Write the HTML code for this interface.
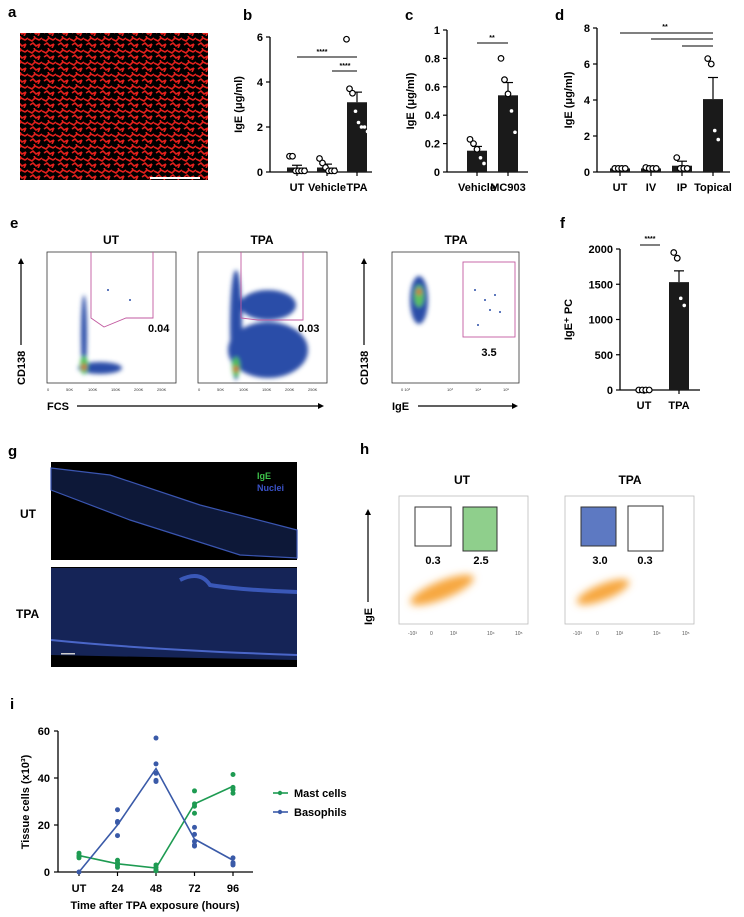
<!DOCTYPE html>
<html><head><meta charset="utf-8">
<style>
html,body{margin:0;padding:0;background:#fff;}
svg{display:block;font-family:"Liberation Sans",Arial,sans-serif;font-weight:bold;}
</style></head>
<body>
<svg id="fig" width="744" height="917" viewBox="0 0 744 917" xmlns="http://www.w3.org/2000/svg">
<defs>
<pattern id="mesh" width="14" height="12" patternUnits="userSpaceOnUse">
<rect width="14" height="12" fill="#000"/>
<path d="M0 3 L4 5 L7 2 L11 4 L14 2 M2 9 L5 7 L8 10 L12 8 M6 0 L7 2 M10 12 L12 8" stroke="#e3201c" stroke-width="1.6" fill="none"/>
</pattern>
<filter id="blur2"><feGaussianBlur stdDeviation="2"/></filter>
<filter id="blur4"><feGaussianBlur stdDeviation="4"/></filter>
</defs>

<g font-size="15">
<text x="8" y="17">a</text><text x="243" y="20">b</text><text x="405" y="20">c</text><text x="555" y="20">d</text>
<text x="10" y="228">e</text><text x="560" y="228">f</text><text x="8" y="456">g</text><text x="360" y="454">h</text><text x="10" y="709">i</text>
</g>

<g>
<rect x="20" y="33" width="188" height="147" fill="url(#mesh)"/>
<rect x="150" y="177" width="50" height="2" fill="#fff"/>
</g>

<g id="charts"></g>

<g font-size="12">
<text x="111" y="244" text-anchor="middle">UT</text>
<text x="262" y="244" text-anchor="middle">TPA</text>
<text x="456" y="244" text-anchor="middle">TPA</text>
<rect x="47" y="252" width="129" height="131" fill="#fff" stroke="#333" stroke-width="0.8"/>
<rect x="198" y="252" width="129" height="131" fill="#fff" stroke="#333" stroke-width="0.8"/>
<rect x="392" y="252" width="127" height="131" fill="#fff" stroke="#333" stroke-width="0.8"/>
<g filter="url(#blur2)">
<ellipse cx="84" cy="335" rx="3" ry="40" fill="#2c4ea8"/>
<ellipse cx="100" cy="368" rx="22" ry="6" fill="#2c4ea8"/>
<ellipse cx="84" cy="365" rx="4" ry="9" fill="#4fbf5a"/>
<ellipse cx="84" cy="367" rx="2" ry="3" fill="#e33"/>
<ellipse cx="236" cy="325" rx="6" ry="55" fill="#2c4ea8"/>
<ellipse cx="268" cy="350" rx="40" ry="28" fill="#2c4ea8"/>
<ellipse cx="268" cy="305" rx="28" ry="15" fill="#2c4ea8"/>
<ellipse cx="236" cy="367" rx="4" ry="10" fill="#4fbf5a"/>
<ellipse cx="236" cy="369" rx="2" ry="3" fill="#e33"/>
<ellipse cx="419" cy="300" rx="9" ry="24" fill="#2c4ea8"/>
<ellipse cx="419" cy="296" rx="5" ry="11" fill="#5cc060"/>
<ellipse cx="419" cy="292" rx="2" ry="3" fill="#e33"/>
</g>
<g fill="#2c4ea8"><circle cx="475" cy="290" r="1"/><circle cx="485" cy="300" r="1"/><circle cx="490" cy="310" r="1"/><circle cx="478" cy="325" r="1"/><circle cx="495" cy="295" r="1"/><circle cx="500" cy="312" r="1"/><circle cx="108" cy="290" r="1"/><circle cx="130" cy="300" r="1"/></g>
<path d="M91 252 V318 L104 327 L126 318 H153 V252" fill="none" stroke="#c25aa0" stroke-width="0.9"/>
<path d="M241 252 V318 L258 320 H303 V252" fill="none" stroke="#c25aa0" stroke-width="0.9"/>
<rect x="463" y="262" width="52" height="75" fill="none" stroke="#c25aa0" stroke-width="0.9"/>
<text x="148" y="332" font-size="11">0.04</text>
<text x="298" y="332" font-size="11">0.03</text>
<text x="489" y="356" font-size="11" text-anchor="middle">3.5</text>
<g font-size="4" font-weight="normal" fill="#333">
<text x="47" y="391">0</text><text x="66" y="391">50K</text><text x="88" y="391">100K</text><text x="111" y="391">150K</text><text x="134" y="391">200K</text><text x="157" y="391">250K</text>
<text x="198" y="391">0</text><text x="217" y="391">50K</text><text x="239" y="391">100K</text><text x="262" y="391">150K</text><text x="285" y="391">200K</text><text x="308" y="391">250K</text>
<text x="401" y="391">0 10²</text><text x="447" y="391">10³</text><text x="475" y="391">10⁴</text><text x="503" y="391">10⁵</text>
</g>
<text x="47" y="410" font-size="11">FCS</text>
<line x1="77" y1="406" x2="322" y2="406" stroke="#000" stroke-width="1.2"/><path d="M324 406 l-6 -3 v6z"/>
<text x="392" y="410" font-size="11">IgE</text>
<line x1="418" y1="406" x2="515" y2="406" stroke="#000" stroke-width="1.2"/><path d="M518 406 l-6 -3 v6z"/>
<text transform="translate(25,385) rotate(-90)" font-size="11">CD138</text>
<line x1="21" y1="345" x2="21" y2="262" stroke="#000" stroke-width="1.2"/><path d="M21 258 l-3 6 h6z"/>
<text transform="translate(368,385) rotate(-90)" font-size="11">CD138</text>
<line x1="364" y1="345" x2="364" y2="262" stroke="#000" stroke-width="1.2"/><path d="M364 258 l-3 6 h6z"/>
</g>

<g>
<rect x="51" y="462" width="246" height="98" fill="#000"/>
<polygon points="51,468 110,475 200,505 297,530 297,558 240,555 130,520 51,490" fill="#0d1838" stroke="#3a55b0" stroke-width="1.2"/>
<rect x="51" y="567" width="246" height="100" fill="#000"/>
<polygon points="51,568 297,568 297,660 51,655" fill="#152457"/>
<path d="M51 640 Q150 650 297 655" stroke="#4a66c8" stroke-width="2" fill="none"/>
<path d="M180 580 Q200 570 210 585 Q240 590 297 592" stroke="#3a58b8" stroke-width="4" fill="none"/>
<rect x="61" y="653" width="14" height="1.5" fill="#ccc"/>
<text x="257" y="479" font-size="9" fill="#3ec24a">IgE</text>
<text x="257" y="491" font-size="9" fill="#3a52c8">Nuclei</text>
<text x="20" y="518" font-size="12">UT</text>
<text x="16" y="618" font-size="12">TPA</text>
</g>

<g>
<text x="462" y="484" font-size="12" text-anchor="middle">UT</text>
<text x="630" y="484" font-size="12" text-anchor="middle">TPA</text>
<rect x="399" y="496" width="129" height="128" fill="#fff" stroke="#bbb" stroke-width="0.8"/>
<rect x="565" y="496" width="129" height="128" fill="#fff" stroke="#bbb" stroke-width="0.8"/>
<g filter="url(#blur4)" fill="#f7a740">
<ellipse cx="442" cy="590" rx="34" ry="9" transform="rotate(-22 442 590)"/>
<ellipse cx="603" cy="592" rx="28" ry="8" transform="rotate(-22 603 592)"/>
</g>
<rect x="415" y="507" width="36" height="39" fill="none" stroke="#333"/>
<rect x="463" y="507" width="34" height="44" fill="#8fcf8c" stroke="#333"/>
<rect x="581" y="507" width="35" height="39" fill="#5d79c2" stroke="#333"/>
<rect x="628" y="506" width="35" height="45" fill="none" stroke="#333"/>
<g font-size="5" font-weight="normal" fill="#555"><text x="408" y="635">-10³</text><text x="430" y="635">0</text><text x="450" y="635">10³</text><text x="487" y="635">10⁴</text><text x="515" y="635">10⁵</text><text x="573" y="635">-10³</text><text x="596" y="635">0</text><text x="616" y="635">10³</text><text x="653" y="635">10⁴</text><text x="682" y="635">10⁵</text></g>
<g font-size="11"><text x="433" y="564" text-anchor="middle">0.3</text><text x="481" y="564" text-anchor="middle">2.5</text><text x="600" y="564" text-anchor="middle">3.0</text><text x="645" y="564" text-anchor="middle">0.3</text></g>
<text transform="translate(372,625) rotate(-90)" font-size="11">IgE</text>
<line x1="368" y1="602" x2="368" y2="513" stroke="#000" stroke-width="1.2"/><path d="M368 509 l-3 6 h6z"/>
</g>

<g id="pi"></g>
</svg>
<script>
const bCats = ["UT","Vehicle","TPA"];
const bMeans = [0.2, 0.2, 3.1];
const bErrs = [0.3, 0.35, 3.55];
const bPoints = [[0.7,0.7,0.05,0.05,0.05,0.05],[0.6,0.4,0.2,0.05,0.05,0.05],[5.9,3.7,3.5,2.7,2.2,2.0,2.0,1.8]];
const bTicks = [0,2,4,6];
const cCats = ["Vehicle","MC903"];
const cMeans = [0.15, 0.54];
const cErrs = [0.18, 0.63];
const cPoints = [[0.23,0.2,0.16,0.1,0.06],[0.8,0.65,0.55,0.43,0.28]];
const cTicks = [0,0.2,0.4,0.6,0.8,1];
const dCats = ["UT","IV","IP","Topical"];
const dMeans = [0.2, 0.2, 0.35, 4.05];
const dErrs = [0.25, 0.25, 0.6, 5.25];
const dPoints = [[0.2,0.2,0.2,0.2],[0.25,0.2,0.2,0.2],[0.8,0.2,0.2,0.2],[6.3,6.0,2.3,1.8]];
const dTicks = [0,2,4,6,8];
const fCats = ["UT","TPA"];
const fMeans = [0, 1530];
const fErrs = [0, 1690];
const fPoints = [[0,0,0,0],[1950,1870,1300,1200]];
const fTicks = [0,500,1000,1500,2000];
const iCats = ["UT","24","48","72","96"];
const iMastMean = [7, 3.5, 1.7, 29, 36.5];
const iBasoMean = [0, 20, 44, 14, 5];
const iMastPts = [[8,7,6.5,6],[5,4,3,2],[3,2,1,0.5],[34.5,29,28,25],[41.5,36,35,33.5]];
const iBasoPts = [[0],[26.5,21.5,21,15.5],[57,46,42,39,38.5],[19,16,13,11.5,11],[6,4,3.5,3]];
const iTicks = [0,20,40,60];

const NS="http://www.w3.org/2000/svg";
function mk(parent,tag,attrs,txt){const e=document.createElementNS(NS,tag);for(const k in attrs)e.setAttribute(k,attrs[k]);if(txt!==undefined)e.textContent=txt;parent.appendChild(e);return e;}
const root=document.getElementById('charts');

function barPanel(name,cfg,cats,means,errs,pts,ticks){
  const g=mk(root,'g',{});
  
  
  const y=v=>cfg.y0-(v/cfg.max)*(cfg.y0-cfg.y1);
  const x=i=>cfg.ax+cfg.start+i*cfg.step;
  mk(g,'line',{x1:cfg.ax,y1:y(ticks[ticks.length-1]),x2:cfg.ax,y2:cfg.y0,stroke:'#000','stroke-width':1.3});
  mk(g,'line',{x1:cfg.ax,y1:cfg.y0,x2:cfg.xend,y2:cfg.y0,stroke:'#000','stroke-width':1.3});
  ticks.forEach(t=>{
    mk(g,'line',{x1:cfg.ax-4,y1:y(t),x2:cfg.ax,y2:y(t),stroke:'#000','stroke-width':1.2});
    const tl=mk(g,'text',{x:cfg.ax-7,y:y(t)+4,'font-size':11,'text-anchor':'end'},String(t));
    
    
  });
  cats.forEach((c,i)=>{
    const cx=x(i);
    mk(g,'line',{x1:cx,y1:cfg.y0,x2:cx,y2:cfg.y0+4,stroke:'#000','stroke-width':1.2});
    const lab=mk(g,'text',{x:cx,y:cfg.y0+19,'font-size':11,'text-anchor':'middle'},c);
    
    
    if(errs[i]>means[i]){
      mk(g,'line',{x1:cx,y1:y(means[i]),x2:cx,y2:y(errs[i]),stroke:'#000','stroke-width':1.2});
      mk(g,'line',{x1:cx-5,y1:y(errs[i]),x2:cx+5,y2:y(errs[i]),stroke:'#000','stroke-width':1.2});
    }
    const bar=mk(g,'rect',{x:cx-cfg.bw/2,y:y(means[i]),width:cfg.bw,height:cfg.y0-y(means[i]),fill:'#1a1a1a'});
    
    
    const p=pts[i];
    p.forEach((v,j)=>{
      const off=(j-(p.length-1)/2)*(cfg.jit);
      const inside=v<means[i]&&means[i]>cfg.max*0.1;
      const pt=mk(g,'circle',{cx:cx+off,cy:y(v),r:inside?1.8:2.8,fill:'#fff',stroke:inside?'none':'#000','stroke-width':1.2});
      
      
    });
  });
  const yl=mk(g,'text',{transform:`translate(${cfg.ax-cfg.ylOff},${(cfg.y0+cfg.y1)/2}) rotate(-90)`,'font-size':11,'text-anchor':'middle'},cfg.ylabel);
  
  
  return {g,x,y};
}

const b=barPanel('panel-b-chart',{ax:270,y0:172,y1:37,max:6,start:27,step:30,bw:20,xend:372,jit:3,ylOff:28,ylabel:'IgE (μg/ml)'},bCats,bMeans,bErrs,bPoints,bTicks);
mk(b.g,'line',{x1:b.x(0),y1:57,x2:b.x(2),y2:57,stroke:'#000'});mk(b.g,'text',{x:322,y:54,'font-size':7,'text-anchor':'middle'},'****');
mk(b.g,'line',{x1:332,y1:71,x2:b.x(2),y2:71,stroke:'#000'});mk(b.g,'text',{x:345,y:68,'font-size':7,'text-anchor':'middle'},'****');
const c=barPanel('panel-c-chart',{ax:447,y0:172,y1:30,max:1,start:30,step:31,bw:20,xend:528,jit:3.5,ylOff:33,ylabel:'IgE (μg/ml)'},cCats,cMeans,cErrs,cPoints,cTicks);
mk(c.g,'line',{x1:c.x(0),y1:43,x2:c.x(1),y2:43,stroke:'#000'});mk(c.g,'text',{x:492,y:40,'font-size':7,'text-anchor':'middle'},'**');
const d=barPanel('panel-d-chart',{ax:597,y0:172,y1:28,max:8,start:23,step:31,bw:20,xend:730,jit:3.5,ylOff:25,ylabel:'IgE (μg/ml)'},dCats,dMeans,dErrs,dPoints,dTicks);
[[0,33],[1,39],[2,46]].forEach(([i,yy])=>mk(d.g,'line',{x1:d.x(i),y1:yy,x2:d.x(3),y2:yy,stroke:'#000'}));
mk(d.g,'text',{x:665,y:29,'font-size':7,'text-anchor':'middle'},'**');
const f=barPanel('panel-f-chart',{ax:620,y0:390,y1:249,max:2000,start:24,step:35,bw:20,xend:700,jit:3.5,ylOff:48,ylabel:'IgE⁺ PC'},fCats,fMeans,fErrs,fPoints,fTicks);
mk(f.g,'line',{x1:f.x(0)-4,y1:245,x2:f.x(1)-19,y2:245,stroke:'#000'});mk(f.g,'text',{x:650,y:241,'font-size':7,'text-anchor':'middle'},'****');

const pi=document.getElementById('pi');


const iy=v=>872-(v/60)*(872-731);
const ix=i=>79+i*38.5;
mk(pi,'line',{x1:58,y1:iy(60),x2:58,y2:872,stroke:'#000','stroke-width':1.3});
mk(pi,'line',{x1:58,y1:872,x2:253,y2:872,stroke:'#000','stroke-width':1.3});
iTicks.forEach(t=>{mk(pi,'line',{x1:54,y1:iy(t),x2:58,y2:iy(t),stroke:'#000','stroke-width':1.2});
  const tl=mk(pi,'text',{x:50,y:iy(t)+4,'font-size':11,'text-anchor':'end'},String(t));
  
  });
iCats.forEach((cc,i)=>{mk(pi,'line',{x1:ix(i),y1:872,x2:ix(i),y2:876,stroke:'#000','stroke-width':1.2});
  const tl=mk(pi,'text',{x:ix(i),y:892,'font-size':11,'text-anchor':'middle'},cc);
  
  });
const xt=mk(pi,'text',{x:155,y:909,'font-size':11,'text-anchor':'middle'},'Time after TPA exposure (hours)');


const yt=mk(pi,'text',{transform:'translate(29,802) rotate(-90)','font-size':11,'text-anchor':'middle'},'Tissue cells (x10³)');


[[iMastMean,iMastPts,'#1e9b52','mast-cells'],[iBasoMean,iBasoPts,'#3a5aa8','basophils']].forEach(([m,p,col,nm])=>{
  const ln=mk(pi,'polyline',{points:m.map((v,i)=>ix(i)+','+iy(v)).join(' '),fill:'none',stroke:col,'stroke-width':1.6});
  
  
  p.forEach((arr,i)=>arr.forEach(v=>{const ci=mk(pi,'circle',{cx:ix(i),cy:iy(v),r:2.5,fill:col});
    
    }));
});
[['Mast cells','#1e9b52',793],['Basophils','#3a5aa8',812]].forEach(([t,col,yy])=>{
  const lg=mk(pi,'g',{});
  
  
  mk(lg,'line',{x1:273,y1:yy,x2:288,y2:yy,stroke:col,'stroke-width':1.6});
  mk(lg,'circle',{cx:280,cy:yy,r:2.2,fill:col});
  mk(lg,'text',{x:294,y:yy+4,'font-size':11},t);
});
</script>
</body></html>
